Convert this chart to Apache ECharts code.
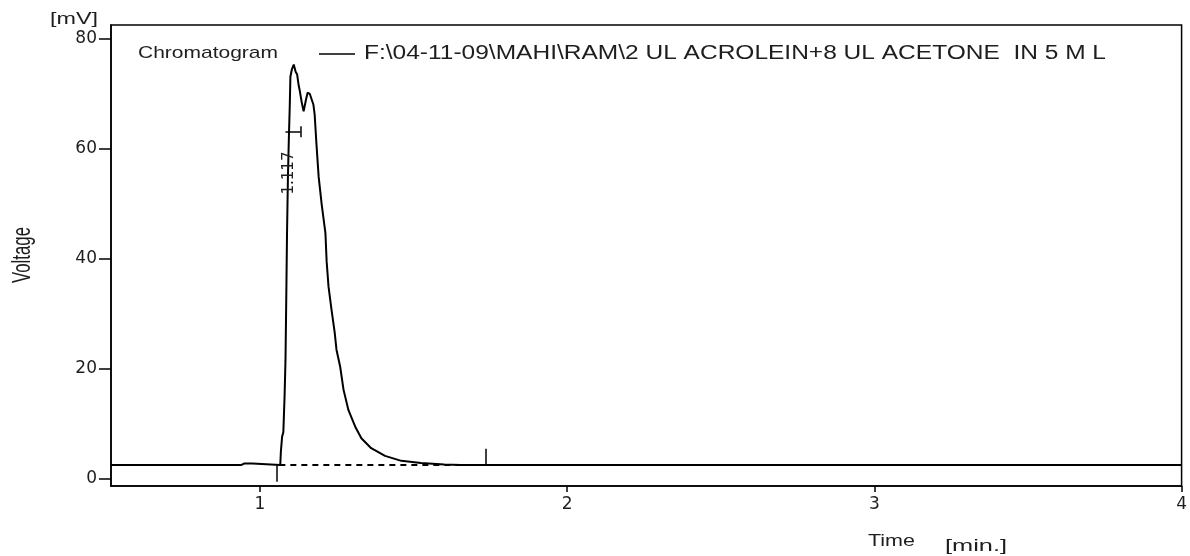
<!DOCTYPE html>
<html>
<head>
<meta charset="utf-8">
<script src="https://cdn.jsdelivr.net/npm/echarts@6/dist/echarts.min.js"></script>
<style>
html,body{margin:0;padding:0;background:#fff;}
#chart{width:1190px;height:556px;}
</style>
</head>
<body>
<div id="chart"></div>
<script>
// ---- data ----
const timeMin = [0.515, 0.940, 0.948, 0.975, 0.980, 1.066, 1.068, 1.072, 1.076, 1.080, 1.083, 1.086, 1.088, 1.091, 1.094, 1.097, 1.099, 1.104, 1.110, 1.116, 1.121, 1.126, 1.129, 1.136, 1.142, 1.146, 1.150, 1.155, 1.162, 1.168, 1.174, 1.178, 1.184, 1.191, 1.201, 1.213, 1.217, 1.223, 1.233, 1.243, 1.249, 1.261, 1.272, 1.288, 1.310, 1.330, 1.362, 1.407, 1.460, 1.524, 1.600, 1.654, 4.000];
const voltageMV = [2.55, 2.55, 2.8, 2.8, 2.55, 2.55, 5.0, 7.7, 8.5, 15.0, 21.6, 35.0, 44.7, 55.0, 62.0, 68.0, 73.1, 74.5, 75.3, 74.0, 73.5, 71.5, 70.7, 68.4, 66.8, 66.8, 69.0, 70.2, 70.0, 69.8, 68.0, 66.2, 60.7, 54.9, 49.8, 44.7, 39.5, 35.0, 30.7, 26.7, 23.5, 20.4, 16.2, 12.5, 9.5, 7.4, 5.6, 4.2, 3.3, 2.9, 2.65, 2.55, 2.55];
const xTicks = [1, 2, 3, 4];
const yTicks = [0, 20, 40, 60, 80];
const seriesName = 'F:\\04-11-09\\MAHI\\RAM\\2 UL ACROLEIN+8 UL ACETONE  IN 5 M L';
const chartTitle = 'Chromatogram';
const peakLabel = '1.117';
const peakLabelPos = [1.0935, 55.6];
const peakStart = 1.055;
const baselineStart = 1.063;
const peakEnd = 1.734;
const baselineLevel = 2.55;
const peakMarkTime = [1.083, 1.132];
const peakMarkLevel = 63.1;

// ---- helpers ----
const ctx = document.createElement('canvas').getContext('2d');
function fitScale(text, font, target) {
  ctx.font = font;
  return target / ctx.measureText(text).width;
}
const FF = '"Liberation Sans", Arial, sans-serif';
function stretchedText(text, size, x, y, targetW, opts) {
  opts = opts || {};
  const font = size + 'px ' + FF;
  const s = fitScale(text, font, targetW);
  const el = {
    type: 'text', x: x, y: y, silent: true,
    style: { text: text, font: font, fill: '#1e1e1e', align: opts.align || 'left', verticalAlign: 'middle' }
  };
  el.scaleX = s;
  if (opts.rotate) { el.rotation = opts.rotate; el.scaleY = opts.scaleY || 1; }
  return el;
}

const chart = echarts.init(document.getElementById('chart'), null, { renderer: 'canvas' });
const pairs = timeMin.map((t, i) => [t, voltageMV[i]]);

const option = {
  animation: false,
  backgroundColor: '#fff',
  grid: { left: 111, right: 2, top: 25, bottom: 70, show: true, borderColor: '#000', borderWidth: 1.5, backgroundColor: 'transparent' },
  xAxis: {
    type: 'value', min: 0.515, max: 4,
    axisLine: { show: true, onZero: false, lineStyle: { color: '#000', width: 1.5 } },
    axisTick: { show: true, length: 6, customValues: xTicks, lineStyle: { color: '#000', width: 1.5 } },
    axisLabel: { customValues: xTicks, margin: 10, color: '#1e1e1e', fontSize: 17, fontFamily: '"DejaVu Sans", sans-serif' },
    splitLine: { show: false }
  },
  yAxis: {
    type: 'value', min: -1.27, max: 82.5,
    axisLine: { show: true, onZero: false, lineStyle: { color: '#000', width: 1.5 } },
    axisTick: { show: true, length: 12, customValues: yTicks, lineStyle: { color: '#000', width: 1.5 } },
    axisLabel: { customValues: yTicks, margin: 14, color: '#1e1e1e', fontSize: 17, fontFamily: '"DejaVu Sans", sans-serif' },
    splitLine: { show: false }
  },
  series: [{
    name: seriesName,
    type: 'line',
    data: pairs,
    showSymbol: false,
    symbol: 'none',
    lineStyle: { color: '#000', width: 2 },
    markPoint: {
      silent: true,
      symbol: 'circle', symbolSize: 0,
      data: [{ coord: peakLabelPos, value: peakLabel }],
      label: { show: true, position: 'inside', rotate: 90, formatter: peakLabel, color: '#1e1e1e', fontSize: 15, fontFamily: '"DejaVu Sans", sans-serif' }
    },
    markLine: {
      silent: true,
      symbol: ['none', 'none'],
      label: { show: false },
      lineStyle: { color: '#000', width: 1.5, type: 'solid' },
      data: [
        [{ coord: [baselineStart, baselineLevel], lineStyle: { type: [6, 5], width: 2 } }, { coord: [peakEnd, baselineLevel] }],
        [{ coord: [peakStart, baselineLevel] }, { coord: [peakStart, -0.5] }],
        [{ coord: [peakEnd, baselineLevel] }, { coord: [peakEnd, 5.5] }],
        [{ coord: [peakMarkTime[0], peakMarkLevel] }, { coord: [peakMarkTime[1], peakMarkLevel] }],
        [{ coord: [peakMarkTime[1], peakMarkLevel - 1.0] }, { coord: [peakMarkTime[1], peakMarkLevel + 1.0] }]
      ]
    }
  }],
  graphic: [
    stretchedText('[mV]', 16, 50, 19.5, 48),
    stretchedText(chartTitle, 17, 138, 53, 140),
    { type: 'line', silent: true, shape: { x1: 319, y1: 54, x2: 355, y2: 54 }, style: { stroke: '#000', lineWidth: 1.5 } },
    stretchedText(seriesName, 19.5, 364, 54, 742),
    stretchedText('Voltage', 16, 22.5, 255, 56, { align: 'center', rotate: Math.PI / 2, scaleY: 1.6 }),
    stretchedText('Time', 17, 868, 541.5, 47),
    stretchedText('[min.]', 16, 945, 546.5, 62)
  ]
};
chart.setOption(option);
</script>
</body>
</html>
